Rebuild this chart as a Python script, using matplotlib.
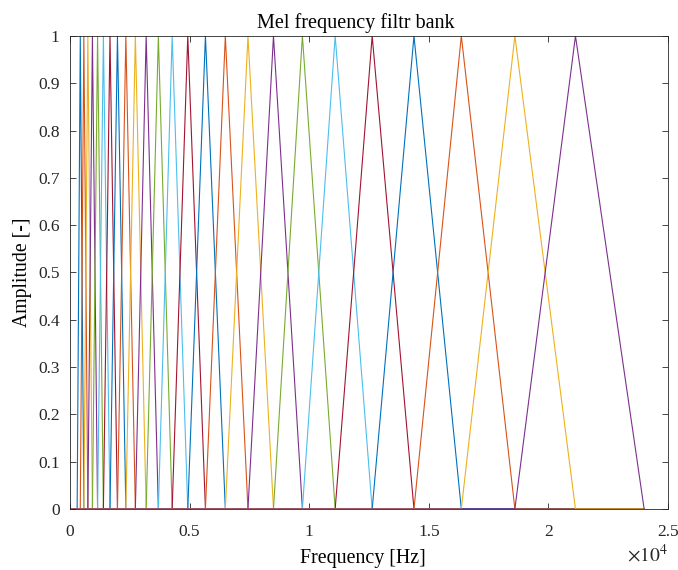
import matplotlib
matplotlib.use("Agg")
import matplotlib.pyplot as plt

# mel-spaced band edges [Hz] (25 triangular filters)
edges_hz = [300, 431, 580, 748, 938, 1154, 1397, 1673, 1985, 2336, 2734,
            3185, 3695, 4272, 4925, 5663, 6495, 7441, 8508, 9717, 11087,
            12634, 14381, 16361, 18600, 21133, 24004]
f_max = 24004

MATLAB_COLORS = ["#0072BD", "#D95319", "#EDB120", "#7E2F8E",
                 "#77AC30", "#4DBEEE", "#A2142F"]

plt.rcParams["font.family"] = ["Liberation Serif", "DejaVu Serif"]
plt.rcParams["mathtext.fontset"] = "stix"

fig = plt.figure(figsize=(6.78, 5.70), dpi=100)
ax = fig.add_axes([0.1032, 0.107, 0.882, 0.830])

for i in range(len(edges_hz) - 2):
    lo, mid, hi = edges_hz[i], edges_hz[i + 1], edges_hz[i + 2]
    ax.plot([0, lo, mid, hi, f_max], [0, 0, 1, 0, 0],
            color=MATLAB_COLORS[i % 7], linewidth=0.8)

ax.set_xlim(0, 25000)
ax.set_ylim(0, 1)
xt = [0, 5000, 10000, 15000, 20000, 25000]
ax.set_xticks(xt)
ax.set_xticklabels(["0", "0.5", "1", "1.5", "2", "2.5"])
yt = [i / 10 for i in range(11)]
ax.set_yticks(yt)
ax.set_yticklabels(["0", "0.1", "0.2", "0.3", "0.4", "0.5", "0.6", "0.7",
                    "0.8", "0.9", "1"])
ax.tick_params(direction="in", top=True, right=True, labelsize=12.5,
               length=4, width=0.6, colors="#262626")
ax.tick_params(axis="x", pad=10.5)
ax.tick_params(axis="y", pad=7.5)
for s in ax.spines.values():
    s.set_linewidth(0.6)
    s.set_color("#262626")

ax.text(1.0, -0.072, r"$\times10^{4}$", transform=ax.transAxes,
        ha="right", va="top", fontsize=14, color="#262626")
ax.set_title("Mel frequency filtr bank", fontsize=14.5, pad=6, x=0.478)
ax.set_xlabel("Frequency [Hz]", fontsize=14.4, labelpad=7, x=0.49)
ax.set_ylabel("Amplitude [-]", fontsize=14.2, labelpad=4)

fig.savefig("out.png", dpi=100)
